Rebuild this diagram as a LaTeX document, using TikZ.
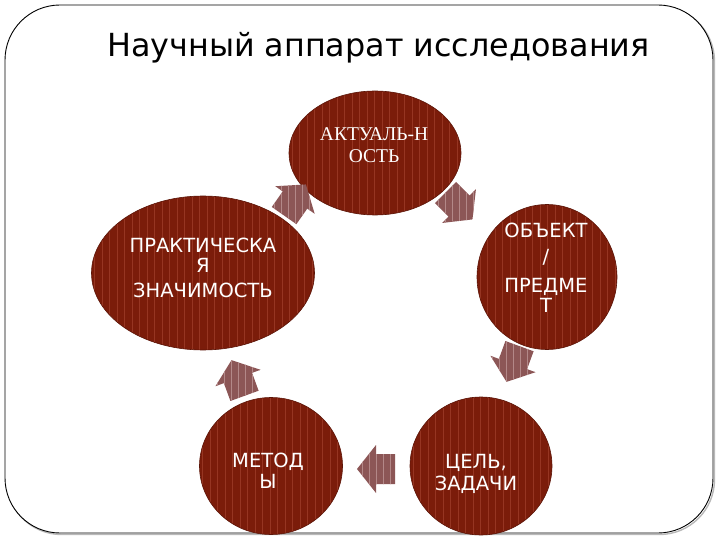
\documentclass[tikz,border=0pt]{standalone}
\usepackage{fontspec}
\setmainfont{DejaVu Sans}
\newfontfamily\serifru{Liberation Serif}
\usetikzlibrary{calc,shapes.geometric}
\definecolor{blobred}{HTML}{7B1C0A}
\definecolor{blobstripe}{HTML}{963522}
\definecolor{arrfill}{HTML}{8C5656}
\definecolor{arrstripe}{HTML}{B38888}
\tikzset{
  blob/.style={ellipse, fill=blobred, draw=blobred!75!black, line width=0.6pt, inner sep=0pt,
    path picture={\foreach \k in {0,...,31}{\draw[blobstripe, line width=0.7pt]
      ($(path picture bounding box.north west)+(3+\k*7.5,0)$) --
      ($(path picture bounding box.south west)+(3+\k*7.5,0)$);}}},
  lbl/.style={text=white, font=\fontsize{19.5}{22}\selectfont, align=center, inner sep=0pt, anchor=north},
}
\newcommand{\blockarr}[2]{%
  \begin{scope}
    \clip[shift={(#1)}, rotate=#2] (-19,-15) -- (0,-15) -- (0,-24) -- (19,0) -- (0,24) -- (0,15) -- (-19,15) -- cycle;
    \fill[arrfill] ($(#1)+(-40,-40)$) rectangle ($(#1)+(40,40)$);
    \foreach \k in {-5,...,5}{\draw[arrstripe, line width=1pt] ($(#1)+(\k*7,-40)$) -- ($(#1)+(\k*7,40)$);}
  \end{scope}}
\begin{document}
\begin{tikzpicture}[x=1pt,y=-1pt]
\useasboundingbox (0,0) rectangle (720,540);
% frame
\draw[gray!55, line width=1.4pt, rounded corners=55pt] (6.5,6.5) rectangle (714.5,534.5);
\draw[black, line width=0.9pt, fill=white, rounded corners=55pt] (5,5) rectangle (713,533);
% title
\node[anchor=base west, font=\fontsize{31.8}{36}\selectfont, inner sep=0pt] (title) at (107,57) {Научный аппарат исследования};
% ellipses
\node[blob, minimum width=172pt, minimum height=124pt] (akt) at (375,153) {};
\node[blob, minimum width=140pt, minimum height=145pt] (obj) at (547,277) {};
\node[blob, minimum width=142pt, minimum height=138pt] (goal) at (481,466) {};
\node[blob, minimum width=143pt, minimum height=137pt] (meth) at (271,466) {};
\node[blob, minimum width=223pt, minimum height=154pt] (prac) at (203,273) {};
% texts
\node[lbl, font=\serifru\fontsize{19.5}{22}\selectfont] (akt-t) at (374,127) {АКТУАЛЬ-Н\\ОСТЬ};
\node[lbl] (obj-t) at (546,223) {ОБЪЕКТ\\[4pt]/\\[7pt]ПРЕДМЕ\\[-2pt]Т};
\node[lbl] (prac-t) at (203,238) {ПРАКТИЧЕСКА\\[-2pt]Я\\[3pt]ЗНАЧИМОСТЬ};
\node[lbl] (meth-t) at (268,453) {МЕТОД\\[-1pt]Ы};
\node[lbl] (goal-t) at (476,454) {ЦЕЛЬ,\\ЗАДАЧИ};
% arrows
\coordinate (arr1) at (459,206);
\coordinate (arr2) at (513,364);
\coordinate (arr3) at (376,469);
\coordinate (arr4) at (238,378);
\coordinate (arr5) at (295,200);
\blockarr{arr1}{-45}
\blockarr{arr2}{-110}
\blockarr{arr3}{180}
\blockarr{arr4}{110}
\blockarr{arr5}{55}
\end{tikzpicture}
\end{document}
